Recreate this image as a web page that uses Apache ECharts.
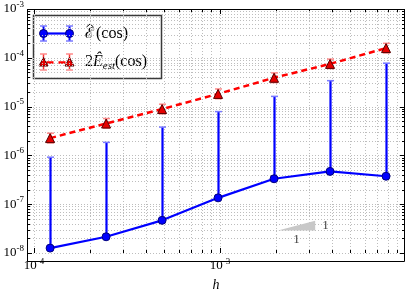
<!DOCTYPE html>
<html><head><meta charset="utf-8">
<script src="https://cdn.jsdelivr.net/npm/echarts@6/dist/echarts.min.js"></script>
<style>html,body{margin:0;padding:0;background:#fff}#c{width:407px;height:297px}</style>
</head><body><div id="c"></div>
<script>
// ---- data ----
const hValues = [1.2207e-4, 2.4414e-4, 4.8828e-4, 9.7656e-4, 1.9531e-3, 3.9063e-3, 7.8125e-3];
const errCos = [1.26e-8, 2.15e-8, 4.67e-8, 1.35e-7, 3.32e-7, 4.7e-7, 3.74e-7];
const errCosUpper = [9.2e-7, 1.85e-6, 3.8e-6, 7.9e-6, 1.62e-5, 3.4e-5, 7.75e-5];
const estCos = [2.26e-6, 4.5e-6, 8.9e-6, 1.82e-5, 3.9e-5, 7.5e-5, 1.58e-4];
const estCosUpper = [2.85e-6, 5.7e-6, 1.12e-5, 2.3e-5, 4.9e-5, 9.4e-5, 1.98e-4];
const estCosLower = [1.8e-6, 3.6e-6, 7.1e-6, 1.45e-5, 3.1e-5, 6.0e-5, 1.26e-4];
const xMajor = [1e-4, 1e-3];
const xMinor = [2e-4, 3e-4, 4e-4, 5e-4, 6e-4, 7e-4, 8e-4, 9e-4, 2e-3, 3e-3, 4e-3, 5e-3, 6e-3, 7e-3, 8e-3, 9e-3];
const yMajor = [1e-8, 1e-7, 1e-6, 1e-5, 1e-4, 1e-3];
const yMinor = [2e-8,3e-8,4e-8,5e-8,6e-8,7e-8,8e-8,9e-8,
                2e-7,3e-7,4e-7,5e-7,6e-7,7e-7,8e-7,9e-7,
                2e-6,3e-6,4e-6,5e-6,6e-6,7e-6,8e-6,9e-6,
                2e-5,3e-5,4e-5,5e-5,6e-5,7e-5,8e-5,9e-5,
                2e-4,3e-4,4e-4,5e-4,6e-4,7e-4,8e-4,9e-4];
const slopeTriangle = [[2.05e-3, 2.9e-8], [3.25e-3, 2.9e-8], [3.25e-3, 4.6e-8]];
const slopeLabels = ['1', '1'];

const X_MIN = 9.17e-5, X_MAX = 9.88e-3, Y_MIN = 1e-8, Y_MAX = 1e-3;
const FONT = 'Liberation Serif';

const chart = echarts.init(document.getElementById('c'));

function px(v) { return Math.round(v) + 0.5; }

function gridItem(isX) {
  return function (params, api) {
    const cs = params.coordSys;
    const v = api.value(isX ? 0 : 1), major = api.value(2);
    const L = major ? 5 : 3;
    const tick = {stroke: '#000', lineWidth: 1};
    const grid = {stroke: '#bdbdbd', lineWidth: 1, lineDash: [1, 2]};
    if (isX) {
      const x = px(api.coord([v, Y_MIN])[0]);
      const t = cs.y, b = cs.y + cs.height;
      return {type: 'group', children: [
        {type: 'line', shape: {x1: x, y1: t, x2: x, y2: b}, style: grid},
        {type: 'line', shape: {x1: x, y1: b, x2: x, y2: b - L}, style: tick},
        {type: 'line', shape: {x1: x, y1: t, x2: x, y2: t + L}, style: tick}
      ]};
    } else {
      const y = px(api.coord([X_MIN, v])[1]);
      const l = cs.x, r = cs.x + cs.width;
      return {type: 'group', children: [
        {type: 'line', shape: {x1: l, y1: y, x2: r, y2: y}, style: grid},
        {type: 'line', shape: {x1: l, y1: y, x2: l + L, y2: y}, style: tick},
        {type: 'line', shape: {x1: r, y1: y, x2: r - L, y2: y}, style: tick}
      ]};
    }
  };
}

function errItem(color, capColor, width, lowerCap) {
  return function (params, api) {
    const x = api.value(0);
    const p1 = api.coord([x, api.value(1)]);
    const p2 = api.coord([x, api.value(2)]);
    const cx = px(p1[0]);
    const cw = 3.5;
    const ch = [
      {type: 'line', shape: {x1: cx, y1: p1[1], x2: cx, y2: p2[1]}, style: {stroke: color, lineWidth: width}},
      {type: 'line', shape: {x1: cx - cw, y1: p2[1], x2: cx + cw, y2: p2[1]}, style: {stroke: capColor, lineWidth: 1.5}}
    ];
    if (lowerCap) ch.push({type: 'line', shape: {x1: cx - cw, y1: p1[1], x2: cx + cw, y2: p1[1]}, style: {stroke: capColor, lineWidth: 1.5}});
    return {type: 'group', children: ch};
  };
}

function logLabel(v) {
  const e = Math.log10(v);
  if (Math.abs(e - Math.round(e)) > 1e-6) return '';
  return '{a|10}{b|' + Math.round(e) + '}';
}
const labelRich = {
  a: {fontFamily: FONT, fontSize: 13, color: '#000'},
  b: {fontFamily: FONT, fontSize: 9, color: '#000', padding: [0, 0, 9, 0]}
};

const option = {
  animation: false,
  grid: {left: 27, top: 9, width: 378, height: 253},
  xAxis: {
    type: 'log', logBase: 10, min: X_MIN, max: X_MAX,
    axisLine: {show: false}, axisTick: {show: false}, splitLine: {show: false},
    axisLabel: {formatter: logLabel, rich: labelRich, margin: 4, showMinLabel: true, showMaxLabel: false},
    name: 'h', nameLocation: 'middle', nameGap: 25,
    nameTextStyle: {fontFamily: FONT, fontStyle: 'italic', fontSize: 14, color: '#000'}
  },
  yAxis: {
    type: 'log', logBase: 10, min: Y_MIN, max: Y_MAX,
    axisLine: {show: false}, axisTick: {show: false}, splitLine: {show: false},
    axisLabel: {formatter: logLabel, rich: labelRich, margin: 3, showMinLabel: true, showMaxLabel: true}
  },
  series: [
    {type: 'custom', silent: true, z: 1, clip: false, renderItem: gridItem(true),
     data: xMajor.map(v => [v, Y_MIN, 1]).concat(xMinor.map(v => [v, Y_MIN, 0]))},
    {type: 'custom', silent: true, z: 1, clip: false, renderItem: gridItem(false),
     data: yMajor.map(v => [X_MIN, v, 1]).concat(yMinor.map(v => [X_MIN, v, 0]))},
    {type: 'custom', silent: true, z: 2, renderItem: function (params, api) {
      const pts = slopeTriangle.map(p => api.coord(p));
      const a = pts[0], b = pts[1], c = pts[2];
      return {type: 'group', children: [
        {type: 'polygon', shape: {points: pts}, style: {fill: '#c8c8c8'}},
        {type: 'text', style: {text: slopeLabels[0], x: (a[0] + b[0]) / 2, y: b[1] + 3, align: 'center', verticalAlign: 'top', fontFamily: FONT, fontSize: 13, fill: '#444'}},
        {type: 'text', style: {text: slopeLabels[1], x: b[0] + 7, y: (b[1] + c[1]) / 2, align: 'left', verticalAlign: 'middle', fontFamily: FONT, fontSize: 13, fill: '#444'}}
      ]};
    }, data: [[slopeTriangle[0][0], slopeTriangle[0][1]]]},
    {type: 'custom', silent: true, z: 3, renderItem: errItem('#0000ff', '#7a7aff', 2.2, false),
     data: hValues.map((h, i) => [h, errCos[i], errCosUpper[i]])},
    {type: 'custom', silent: true, z: 3, renderItem: errItem('#ff3030', '#ff8a8a', 1.5, true),
     data: hValues.map((h, i) => [h, estCosLower[i], estCosUpper[i]])},
    {type: 'line', z: 4, data: hValues.map((h, i) => [h, errCos[i]]),
     symbol: 'circle', symbolSize: 8,
     lineStyle: {color: '#0000ff', width: 2.2},
     itemStyle: {color: '#0000ff', borderColor: '#00007a', borderWidth: 1}},
    {type: 'line', z: 4, data: hValues.map((h, i) => [h, estCos[i]]),
     symbol: 'triangle', symbolSize: [9, 9],
     lineStyle: {color: '#ff0000', width: 2.5, type: [6, 4]},
     itemStyle: {color: '#e60000', borderColor: '#550000', borderWidth: 1}}
  ],
  graphic: [
    {type: 'rect', z: 10, shape: {x: 27.5, y: 9.5, width: 377, height: 252}, style: {fill: 'none', stroke: '#000', lineWidth: 1}},
    {type: 'group', z: 20, children: [
      {type: 'rect', shape: {x: 33.5, y: 15.5, width: 128, height: 63}, style: {fill: '#fff', stroke: '#3a3a3a', lineWidth: 1.5}},
      // entry 1
      {type: 'line', shape: {x1: 43.5, y1: 26, x2: 43.5, y2: 41}, style: {stroke: '#0000ff', lineWidth: 2}},
      {type: 'line', shape: {x1: 69.5, y1: 26, x2: 69.5, y2: 41}, style: {stroke: '#0000ff', lineWidth: 2}},
      {type: 'line', shape: {x1: 40, y1: 26, x2: 47, y2: 26}, style: {stroke: '#7a7aff', lineWidth: 1.5}},
      {type: 'line', shape: {x1: 40, y1: 41, x2: 47, y2: 41}, style: {stroke: '#7a7aff', lineWidth: 1.5}},
      {type: 'line', shape: {x1: 66, y1: 26, x2: 73, y2: 26}, style: {stroke: '#7a7aff', lineWidth: 1.5}},
      {type: 'line', shape: {x1: 66, y1: 41, x2: 73, y2: 41}, style: {stroke: '#7a7aff', lineWidth: 1.5}},
      {type: 'line', shape: {x1: 43.5, y1: 33.5, x2: 69.5, y2: 33.5}, style: {stroke: '#0000ff', lineWidth: 2.2}},
      {type: 'circle', shape: {cx: 43.5, cy: 33.5, r: 4}, style: {fill: '#0000ff', stroke: '#00007a', lineWidth: 1}},
      {type: 'circle', shape: {cx: 69.5, cy: 33.5, r: 4}, style: {fill: '#0000ff', stroke: '#00007a', lineWidth: 1}},
      {type: 'text', style: {text: '{e|ℰ}{n|(cos)}', x: 85, y: 34, verticalAlign: 'middle',
        rich: {
          e: {fontFamily: 'DejaVu Serif', fontSize: 15, fill: '#000', padding: [0, 2, 0, 0]},
          n: {fontFamily: FONT, fontSize: 16, fill: '#000'}
        }}},
      {type: 'polyline', shape: {points: [[86.5, 27], [90, 24], [93.5, 27]]}, style: {stroke: '#000', lineWidth: 1, fill: 'none'}},
      // entry 2
      {type: 'line', shape: {x1: 43.5, y1: 54, x2: 43.5, y2: 70}, style: {stroke: '#ff3030', lineWidth: 1.5}},
      {type: 'line', shape: {x1: 69.5, y1: 54, x2: 69.5, y2: 70}, style: {stroke: '#ff3030', lineWidth: 1.5}},
      {type: 'line', shape: {x1: 40, y1: 54, x2: 47, y2: 54}, style: {stroke: '#ff8a8a', lineWidth: 1.5}},
      {type: 'line', shape: {x1: 40, y1: 70, x2: 47, y2: 70}, style: {stroke: '#ff8a8a', lineWidth: 1.5}},
      {type: 'line', shape: {x1: 66, y1: 54, x2: 73, y2: 54}, style: {stroke: '#ff8a8a', lineWidth: 1.5}},
      {type: 'line', shape: {x1: 66, y1: 70, x2: 73, y2: 70}, style: {stroke: '#ff8a8a', lineWidth: 1.5}},
      {type: 'line', shape: {x1: 43.5, y1: 62.5, x2: 69.5, y2: 62.5}, style: {stroke: '#ff0000', lineWidth: 2.5, lineDash: [7, 5], lineDashOffset: -3}},
      {type: 'polygon', shape: {points: [[43.5, 57.5], [48, 66], [39, 66]]}, style: {fill: '#e60000', stroke: '#550000', lineWidth: 1}},
      {type: 'polygon', shape: {points: [[69.5, 57.5], [74, 66], [65, 66]]}, style: {fill: '#e60000', stroke: '#550000', lineWidth: 1}},
      {type: 'text', style: {
        text: '{n|2}{e|Ê}{s|est}{n|(cos)}', x: 85, y: 62, verticalAlign: 'middle',
        rich: {
          n: {fontFamily: FONT, fontSize: 16, fill: '#000'},
          e: {fontFamily: FONT, fontSize: 16, fontStyle: 'italic', fill: '#000'},
          s: {fontFamily: FONT, fontSize: 11, fontStyle: 'italic', fill: '#000', padding: [9, 0, 0, 0]}
        }
      }}
    ]}
  ]
};
chart.setOption(option);
</script></body></html>
